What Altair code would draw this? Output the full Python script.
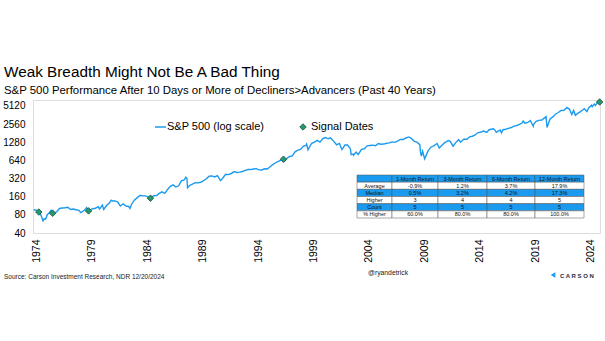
import altair as alt
import pandas as pd

# ---------------- data ----------------
dates = [
    "1973-12-01", "1974-01-31", "1974-03-29", "1974-05-20", "1974-06-28", "1974-08-30", "1974-09-30",
    "1974-10-03", "1974-11-08", "1974-12-31",
    "1975-02-28", "1975-04-30", "1975-06-30", "1975-08-20", "1975-09-30", "1975-12-31",
    "1976-03-31", "1976-06-30", "1976-09-30", "1976-12-31",
    "1977-03-31", "1977-06-30", "1977-09-30", "1977-12-30",
    "1978-03-06", "1978-06-30", "1978-09-12", "1978-11-14", "1978-12-29",
    "1979-03-30", "1979-06-29", "1979-09-28", "1979-11-07", "1979-12-31",
    "1980-02-13", "1980-03-27", "1980-06-30", "1980-09-30", "1980-11-28", "1980-12-31",
    "1981-03-31", "1981-06-30", "1981-09-25", "1981-12-31",
    "1982-03-31", "1982-06-30", "1982-08-12", "1982-09-30", "1982-12-31",
    "1983-03-31", "1983-06-30", "1983-09-30", "1983-12-30",
    "1984-03-30", "1984-06-15", "1984-09-28", "1984-12-31",
    "1985-03-29", "1985-06-28", "1985-09-30", "1985-12-31",
    "1986-03-31", "1986-06-30", "1986-09-30", "1986-12-31",
    "1987-03-31", "1987-06-30", "1987-08-25", "1987-09-30", "1987-10-19", "1987-12-31",
    "1988-03-31", "1988-06-30", "1988-09-30", "1988-12-30",
    "1989-03-31", "1989-06-30", "1989-09-29", "1989-12-29",
    "1990-03-30", "1990-06-29", "1990-10-11", "1990-12-31",
    "1991-03-28", "1991-06-28", "1991-09-30", "1991-12-31",
    "1992-03-31", "1992-06-30", "1992-09-30", "1992-12-31",
    "1993-03-31", "1993-06-30", "1993-09-30", "1993-12-31",
    "1994-03-31", "1994-06-30", "1994-09-30", "1994-12-30",
    "1995-03-31", "1995-06-30", "1995-09-29", "1995-12-29",
    "1996-03-29", "1996-06-14", "1996-07-24", "1996-09-30", "1996-12-31",
    "1997-03-31", "1997-06-30", "1997-09-30", "1997-12-31",
    "1998-03-31", "1998-06-30", "1998-07-17", "1998-08-31", "1998-09-30", "1998-12-31",
    "1999-03-31", "1999-06-30", "1999-09-30", "1999-12-31",
    "2000-03-24", "2000-06-30", "2000-09-01", "2000-12-29",
    "2001-03-30", "2001-06-29", "2001-09-21", "2001-12-31",
    "2002-03-28", "2002-06-28", "2002-07-23", "2002-09-30", "2002-10-09", "2002-12-31",
    "2003-03-11", "2003-06-30", "2003-09-30", "2003-12-31",
    "2004-03-31", "2004-06-30", "2004-09-30", "2004-12-31",
    "2005-03-31", "2005-06-30", "2005-09-30", "2005-12-30",
    "2006-03-31", "2006-06-30", "2006-09-29", "2006-12-29",
    "2007-03-30", "2007-06-29", "2007-10-09", "2007-12-31",
    "2008-03-31", "2008-06-30", "2008-09-30", "2008-10-27", "2008-11-20", "2008-12-31",
    "2009-03-09", "2009-06-30", "2009-09-30", "2009-12-31",
    "2010-04-23", "2010-07-02", "2010-09-30", "2010-12-31",
    "2011-04-29", "2011-06-30", "2011-10-03", "2011-12-30",
    "2012-03-30", "2012-06-01", "2012-09-28", "2012-12-31",
    "2013-03-28", "2013-06-28", "2013-09-30", "2013-12-31",
    "2014-03-31", "2014-06-30", "2014-10-15", "2014-12-31",
    "2015-05-21", "2015-06-30", "2015-08-25", "2015-09-30", "2015-12-31",
    "2016-02-11", "2016-03-31", "2016-06-30", "2016-09-30", "2016-12-30",
    "2017-03-31", "2017-06-30", "2017-09-29", "2017-12-29",
    "2018-01-26", "2018-03-29", "2018-06-29", "2018-09-20", "2018-12-24", "2018-12-31",
    "2019-03-29", "2019-06-28", "2019-09-30", "2019-12-31",
    "2020-02-19", "2020-03-23", "2020-06-30", "2020-09-30", "2020-12-31",
    "2021-03-31", "2021-06-30", "2021-09-30", "2021-12-31",
    "2022-01-03", "2022-03-31", "2022-06-16", "2022-08-16", "2022-10-12", "2022-12-30",
    "2023-03-31", "2023-06-30", "2023-07-31", "2023-10-27", "2023-12-29",
    "2024-03-28", "2024-04-19", "2024-06-28", "2024-08-05", "2024-09-30", "2024-11-11",
    "2024-12-06", "2024-12-20",
]
values = [
    97, 96, 94, 89, 86, 72, 64,
    62, 69, 68,
    81, 87, 95, 85, 84, 90,
    102, 104, 105, 107,
    98, 100, 97, 95,
    87, 95, 106, 93, 96,
    101, 103, 109, 100, 108,
    116, 98, 114, 125, 140, 136,
    136, 131, 112, 122,
    112, 110, 102, 120, 140,
    153, 168, 166, 165,
    159, 151, 166, 167,
    181, 192, 182, 211,
    238, 251, 231, 242,
    292, 304, 336, 321, 225, 247,
    258, 273, 271, 277,
    294, 317, 349, 353,
    339, 358, 295, 330,
    375, 371, 387, 417,
    403, 408, 418, 436,
    451, 450, 459, 466,
    445, 444, 463, 459,
    500, 545, 584, 616,
    645, 668, 626, 687, 741,
    757, 885, 947, 970,
    1102, 1134, 1187, 957, 1017, 1229,
    1286, 1373, 1283, 1469,
    1527, 1455, 1520, 1320,
    1160, 1224, 966, 1148,
    1147, 990, 797, 815, 777, 880,
    800, 975, 996, 1112,
    1126, 1141, 1115, 1212,
    1181, 1191, 1229, 1248,
    1295, 1270, 1336, 1418,
    1421, 1503, 1565, 1468,
    1323, 1280, 1166, 848, 752, 903,
    677, 919, 1057, 1115,
    1217, 1023, 1141, 1258,
    1364, 1321, 1099, 1258,
    1408, 1278, 1441, 1426,
    1569, 1606, 1682, 1848,
    1872, 1960, 1862, 2059,
    2131, 2063, 1868, 1920, 2044,
    1829, 2060, 2099, 2168, 2239,
    2363, 2423, 2519, 2674,
    2873, 2641, 2718, 2931, 2351, 2507,
    2834, 2942, 2977, 3231,
    3386, 2237, 3100, 3363, 3756,
    3973, 4298, 4308, 4766,
    4797, 4530, 3667, 4305, 3577, 3840,
    4109, 4450, 4589, 4117, 4770,
    5254, 4967, 5460, 5186, 5762, 6001,
    6090, 5930,
]

signal_dates = ["1974-05-20", "1975-08-20", "1978-11-14", "1984-06-15", "1996-06-14", "2024-12-20"]
signal_values = [89, 85, 93, 151, 668, 5930]

y_ticks = [40, 80, 160, 320, 640, 1280, 2560, 5120]
x_tick_years = [1974, 1979, 1984, 1989, 1994, 1999, 2004, 2009, 2014, 2019, 2024]

table_headers = ["", "1-Month Return", "3-Month Return", "6-Month Return", "12-Month Return"]
table_row_labels = ["Average", "Median", "Higher", "Count", "% Higher"]
table_values = [
    ["-0.9%", "1.2%", "3.7%", "17.9%"],
    ["0.5%", "3.2%", "4.2%", "17.3%"],
    ["3", "4", "4", "5"],
    ["5", "5", "5", "5"],
    ["60.0%", "80.0%", "80.0%", "100.0%"],
]
table_blue_rows = ["", "Median", "Count"]

# ---------------- style ----------------
BLUE = "#1A9BF0"
GREEN = "#1F9E6C"
FONT = "Liberation Sans"
W, H = 567, 133

spx = pd.DataFrame({"date": dates, "value": values})
sig = pd.DataFrame({"date": signal_dates, "value": signal_values})
one = pd.DataFrame({"k": [0]})

x_scale = alt.Scale(domain=[alt.DateTime(year=1973, month=11, date=10),
                            alt.DateTime(year=2025, month=1, date=1)])
y_scale = alt.Scale(type="log", domain=[40, 6400], nice=False)

x_enc = alt.X("date:T", scale=x_scale, title=None,
              axis=alt.Axis(values=[alt.DateTime(year=y, month=3, date=1) for y in x_tick_years],
                            format="%Y", labelAngle=270, labelPadding=6, ticks=False,
                            domain=False, grid=False, labelFontSize=10.5, labelColor="#000",
                            labelFont=FONT, labelFlush=False, labelOverlap=False))
y_enc = alt.Y("value:Q", scale=y_scale, title=None,
              axis=alt.Axis(values=y_ticks, format="d", ticks=False, domain=False, grid=False,
                            labelPadding=8, labelFontSize=10, labelColor="#000", labelFont=FONT))

line = alt.Chart(spx).mark_line(color=BLUE, strokeWidth=1.4).encode(x=x_enc, y=y_enc)
points = alt.Chart(sig).mark_point(shape="diamond", filled=True, size=42, fill=GREEN,
                                   stroke="#24483a", strokeWidth=0.8, opacity=1).encode(
    x=alt.X("date:T", scale=x_scale), y=alt.Y("value:Q", scale=y_scale))
main = alt.layer(line, points)

# ---------------- table ----------------
col_widths = [35, 46, 49, 48, 49]
cells = []
rows = [table_headers] + [[lab] + vals for lab, vals in zip(table_row_labels, table_values)]
for r, row in enumerate(rows):
    x0 = 0
    for c, txt in enumerate(row):
        x1 = x0 + col_widths[c]
        cells.append({"x0": x0, "x1": x1, "xm": (x0 + x1) / 2, "y0": r, "y1": r + 1,
                      "ym": r + 0.5, "text": txt,
                      "fill": BLUE if row[0] in table_blue_rows else "#ffffff"})
        x0 = x1
cells = pd.DataFrame(cells)
tx = alt.Scale(domain=[0, sum(col_widths)], range=[324, 551], nice=False, zero=False)
ty = alt.Scale(domain=[0, 6], range=[75, 118], nice=False, zero=False)

t_rect = alt.Chart(cells).mark_rect(stroke="#505050", strokeWidth=0.5).encode(
    x=alt.X("x0:Q", scale=tx, axis=None), x2="x1:Q",
    y=alt.Y("y0:Q", scale=ty, axis=None), y2="y1:Q",
    fill=alt.Fill("fill:N", scale=None))
t_text = alt.Chart(cells).mark_text(fontSize=5.5, font=FONT, color="#111").encode(
    x=alt.X("xm:Q", scale=tx, axis=None), y=alt.Y("ym:Q", scale=ty, axis=None),
    text="text:N")
table = alt.layer(t_rect, t_text)

# ---------------- legend & annotations ----------------
leg_line = alt.Chart(one).mark_rule(color=BLUE, strokeWidth=1.5).encode(
    x=alt.value(122), x2=alt.value(133), y=alt.value(27))
leg_t1 = alt.Chart(one).mark_text(text="S&P 500 (log scale)", align="left", baseline="middle",
                                  fontSize=11, font=FONT, color="#000").encode(
    x=alt.value(134), y=alt.value(27))
leg_dia = alt.Chart(one).mark_point(shape="diamond", filled=True, size=42, fill=GREEN,
                                    stroke="#24483a", strokeWidth=0.8, opacity=1).encode(
    x=alt.value(270), y=alt.value(27))
leg_t2 = alt.Chart(one).mark_text(text="Signal Dates", align="left", baseline="middle",
                                  fontSize=11, font=FONT, color="#000").encode(
    x=alt.value(278), y=alt.value(27))

src = alt.Chart(one).mark_text(text="Source: Carson Investment Research, NDR 12/20/2024",
                               align="left", baseline="middle", fontSize=6.5, font=FONT,
                               color="#222").encode(x=alt.value(-29), y=alt.value(177))
handle = alt.Chart(one).mark_text(text="@ryandetrick", align="left", baseline="middle",
                                  fontSize=6.8, font=FONT, color="#222").encode(
    x=alt.value(335), y=alt.value(173))
logo_icon = alt.Chart(one).mark_point(shape="triangle-left", filled=True, size=30,
                                      color=BLUE, opacity=1).encode(
    x=alt.value(520), y=alt.value(175))
logo_text = alt.Chart(one).mark_text(text="C A R S O N", align="left", baseline="middle",
                                     fontSize=6, fontWeight="bold", font=FONT,
                                     color="#1d2b4a").encode(
    x=alt.value(527), y=alt.value(176))

chart = alt.layer(main, table, leg_line, leg_t1, leg_dia, leg_t2, src, handle,
                  logo_icon, logo_text).resolve_scale(x="independent", y="independent").properties(
    width=W, height=H,
    autosize=alt.AutoSizeParams(type="none"),
    padding={"left": 33, "top": 100, "right": 5, "bottom": 108},
    title=alt.TitleParams(
        text="Weak Breadth Might Not Be A Bad Thing",
        subtitle="S&P 500 Performance After 10 Days or More of Decliners>Advancers (Past 40 Years)",
        anchor="start", frame="group", dx=-29, offset=1,
        fontSize=15.3, fontWeight="normal", font=FONT, color="#000",
        subtitleFontSize=11.4, subtitleFont=FONT, subtitleColor="#000", subtitlePadding=4),
).configure_view(stroke=None).configure(background="white")

chart.save("out.html", embed_options={"renderer": "svg", "actions": False})
